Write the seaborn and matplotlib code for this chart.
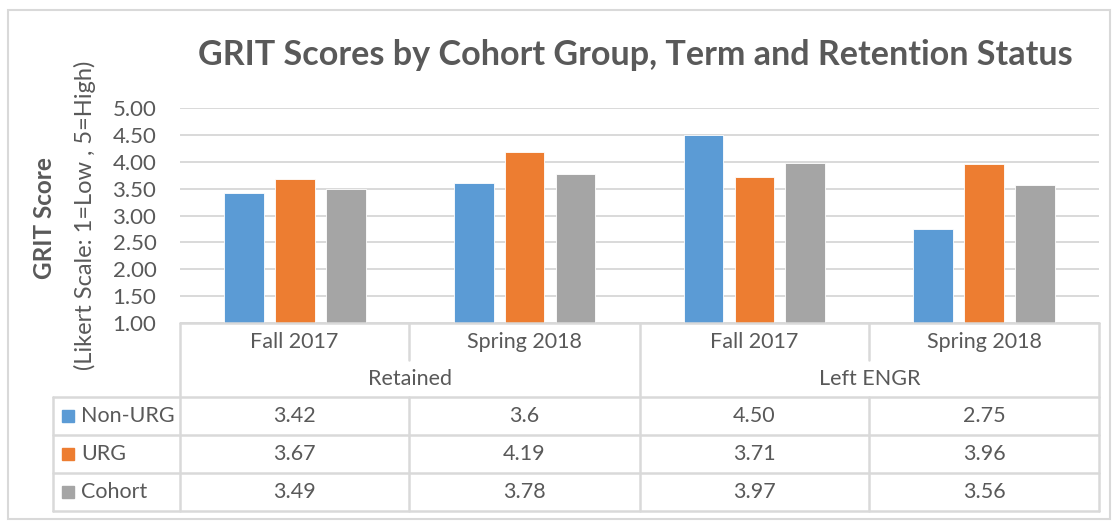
import numpy as np
import pandas as pd
import matplotlib
matplotlib.use("Agg")
import matplotlib.pyplot as plt
from matplotlib.lines import Line2D
from matplotlib.patches import Rectangle
import seaborn as sns

groups = ["Retained", "Left ENGR"]
terms = ["Fall 2017", "Spring 2018"]
series = ["Non-URG", "URG", "Cohort"]
non_urg = [3.42, 3.6, 4.50, 2.75]
urg = [3.67, 4.19, 3.71, 3.96]
cohort = [3.49, 3.78, 3.97, 3.56]
non_urg_labels = ["3.42", "3.6", "4.50", "2.75"]
urg_labels = ["3.67", "4.19", "3.71", "3.96"]
cohort_labels = ["3.49", "3.78", "3.97", "3.56"]
y_ticks = [1.0, 1.5, 2.0, 2.5, 3.0, 3.5, 4.0, 4.5, 5.0]

colors = ["#5B9BD5", "#ED7D31", "#A5A5A5"]
text_col = "#595959"
line_col = "#d9d9d9"

slots = [g + " " + t for g in groups for t in terms]
rows = []
for name, vals in zip(series, [non_urg, urg, cohort]):
    for s, v in zip(slots, vals):
        rows.append({"slot": s, "series": name, "score": v})
df = pd.DataFrame(rows)

sns.set_style("white")
plt.rcParams["font.family"] = ["Lato", "DejaVu Sans"]

W, H = 1117, 521
fig = plt.figure(figsize=(W / 100, H / 100), dpi=100)


def fx(x):
    return x / W


def fy(y):
    return 1 - y / H


x0, x1, ytop, ybot = 180, 1099, 108, 323
ax = fig.add_axes([fx(x0), fy(ybot), fx(x1) - fx(x0), fy(ytop) - fy(ybot)])
sns.barplot(data=df, x="slot", y="score", hue="series", order=slots,
            hue_order=series, palette=colors, saturation=1, width=0.665, gap=0.22,
            edgecolor="white", linewidth=0.6, legend=False, ax=ax)
ax.set_xlim(-0.5, len(slots) - 0.5)
ax.set_ylim(1, 5)
ax.set_yticks(y_ticks)
ax.set_yticklabels([f"{t:.2f}" for t in y_ticks])
ax.set_xticks([])
ax.set_xlabel("")
ax.set_ylabel("")
ax.tick_params(axis="y", length=0, pad=17, labelsize=16, labelcolor=text_col)
ax.grid(axis="y", color=line_col, lw=1.4)
ax.set_axisbelow(True)
for sp in ax.spines.values():
    sp.set_visible(False)

fig.text(fx(635), fy(55), "GRIT Scores by Cohort Group, Term and Retention Status",
         ha="center", va="center", fontsize=24.6, fontweight="bold", color=text_col)
fig.text(fx(45), fy(218), "GRIT Score", rotation=90, ha="center", va="center",
         fontsize=17.5, fontweight="bold", color=text_col)
fig.text(fx(85), fy(215), "(Likert Scale: 1=Low , 5=High)", rotation=90,
         ha="center", va="center", fontsize=17, color=text_col)


def hline(y, xa, xb):
    fig.add_artist(Line2D([fx(xa), fx(xb)], [fy(y), fy(y)], color=line_col, lw=1.8))


def vline(x, ya, yb):
    fig.add_artist(Line2D([fx(x), fx(x)], [fy(ya), fy(yb)], color=line_col, lw=1.8))


col_x = [180, 409, 640, 869, 1099]
row_y = [397, 435, 473, 511]
hline(323, 180, 1099)
for y in row_y:
    hline(y, 53, 1099)
vline(180, 323, 511)
vline(640, 323, 511)
vline(1099, 323, 511)
vline(409, 323, 360)
vline(869, 323, 360)
vline(409, 397, 511)
vline(869, 397, 511)
vline(53, 397, 511)

for i, s in enumerate(slots):
    cx = (col_x[i] + col_x[i + 1]) / 2
    fig.text(fx(cx), fy(342), terms[i % 2], ha="center", va="center",
             fontsize=15.5, color=text_col)
for j, g in enumerate(groups):
    cx = (col_x[2 * j] + col_x[2 * j + 2]) / 2
    fig.text(fx(cx), fy(379), g, ha="center", va="center", fontsize=15.5, color=text_col)

for r, (name, labs, c) in enumerate(zip(series, [non_urg_labels, urg_labels, cohort_labels], colors)):
    cy = (row_y[r] + row_y[r + 1]) / 2
    fig.add_artist(Rectangle((fx(62), fy(cy + 6)), fx(12), 12 / H, color=c))
    fig.text(fx(81), fy(cy), name, ha="left", va="center", fontsize=15.5, color=text_col)
    for i, lab in enumerate(labs):
        cx = (col_x[i] + col_x[i + 1]) / 2
        fig.text(fx(cx), fy(cy), lab, ha="center", va="center", fontsize=15.5, color=text_col)

fig.add_artist(Rectangle((fx(8), fy(519)), fx(1110) - fx(8), fy(10) - fy(519),
                         fill=False, edgecolor=line_col, lw=1.5))

fig.savefig("out.png", dpi=100)
